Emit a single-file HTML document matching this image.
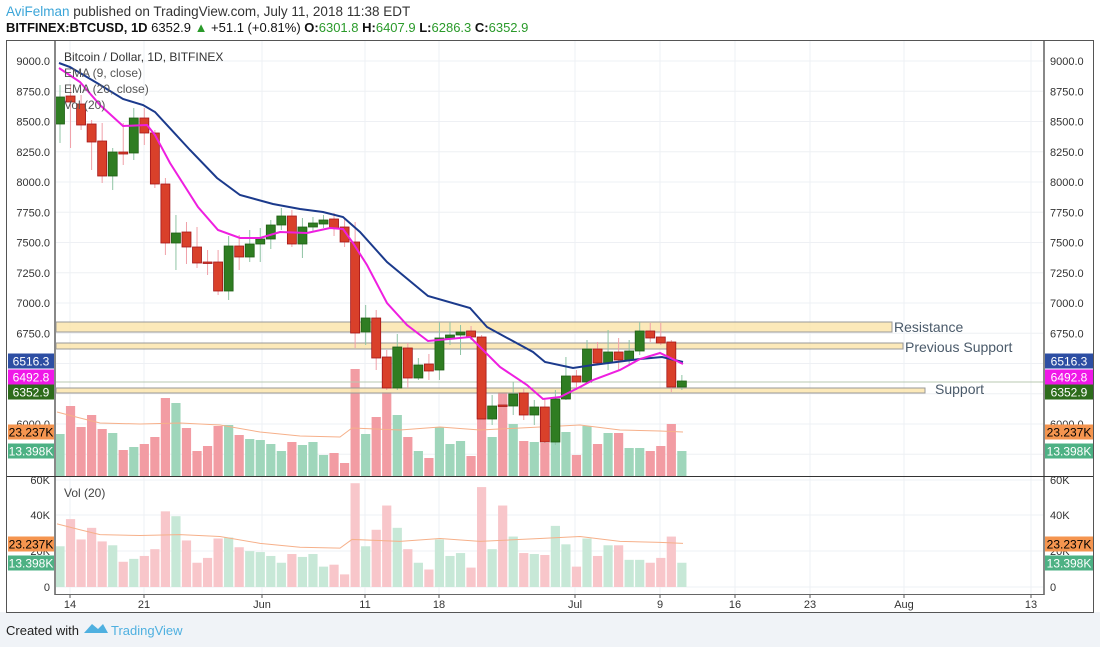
<!DOCTYPE html>
<html><head><meta charset="utf-8"><style>
body{margin:0;width:1100px;height:647px;background:#fff;overflow:hidden;font-family:"Liberation Sans",sans-serif}
#f{position:absolute;left:0;top:612px;width:1100px;height:35px;background:#f0f3f7}
</style></head><body>
<div id="f"></div>
<svg id="s" width="1100" height="647" style="position:absolute;left:0;top:0" font-family="Liberation Sans, sans-serif"></svg>
<script>
const s=document.getElementById('s');let h='';
h+='<text x="6" y="16" font-size="13.5" fill="#333"><tspan fill="#3ba5d8">AviFelman</tspan> published on TradingView.com, July 11, 2018 11:38 EDT</text>';
h+='<text x="6" y="32" font-size="13" fill="#111" font-weight="bold">BITFINEX:BTCUSD, 1D <tspan font-weight="normal">6352.9</tspan> <tspan fill="#2a9a2a">▲</tspan><tspan font-weight="normal"> +51.1 (+0.81%) </tspan>O:<tspan fill="#2a9a2a" font-weight="normal">6301.8</tspan> H:<tspan fill="#2a9a2a" font-weight="normal">6407.9</tspan> L:<tspan fill="#2a9a2a" font-weight="normal">6286.3</tspan> C:<tspan fill="#2a9a2a" font-weight="normal">6352.9</tspan></text>';
h+='<rect x="6.5" y="40.5" width="1087" height="572" fill="#fff" stroke="#555"/>';
// grid
const dates=[[70,'14'],[144,'21'],[262,'Jun'],[365,'11'],[439,'18'],[575,'Jul'],[660,'9'],[735,'16'],[810,'23'],[904,'Aug'],[1031,'13']];
dates.forEach(d=>{h+=`<line x1="${d[0]}" y1="41" x2="${d[0]}" y2="594" stroke="#eef0f4"/>`;h+=`<line x1="${d[0]}" y1="594" x2="${d[0]}" y2="598" stroke="#555"/><text x="${d[0]}" y="608" font-size="11" fill="#333" text-anchor="middle">${d[1]}</text>`});
for(let p=9000;p>=5750;p-=250){const y=61+(9000-p)*0.121;h+=`<line x1="55" y1="${y}" x2="1044" y2="${y}" stroke="#eef0f4"/>`;
 if(p>=6000){const t=p.toFixed(1);h+=`<text x="50" y="${y+4}" font-size="11" fill="#333" text-anchor="end">${t}</text><text x="1050" y="${y+4}" font-size="11" fill="#333">${t}</text>`;}}
[[480,'60K'],[515,'40K'],[551,'20K'],[587,'0']].forEach(a=>{h+=`<line x1="55" y1="${a[0]}" x2="1044" y2="${a[0]}" stroke="#eef0f4"/><text x="50" y="${a[0]+4}" font-size="11" fill="#333" text-anchor="end">${a[1]}</text><text x="1050" y="${a[0]+4}" font-size="11" fill="#333">${a[1]}</text>`});
// candles [open,close,high,low] in y px
const C=[[124,97,85,143],[96,102,85,148],[104,125,95,130],[124,142,120,170],[141,176,123,183],[176,152,148,190],[152,154,123,165],[153,118,108,160],[118,133,108,145],[133,184,130,188],[184,243,178,255],[243,233,215,270],[232,247,222,264],[247,263,227,268],[262,263,250,275],[262,291,250,295],[291,246,236,300],[246,257,235,270],[257,244,230,262],[244,239,228,262],[239,225,220,249],[225,216,208,230],[216,244,210,247],[244,227,218,258],[227,223,217,232],[224,220,215,228],[219,228,213,236],[227,242,218,247],[242,333,222,348],[332,318,305,345],[318,358,310,370],[357,388,350,390],[388,347,334,390],[348,378,343,388],[378,365,358,380],[364,371,354,380],[370,338,322,380],[338,335,322,345],[335,332,325,355],[331,337,326,340],[337,419,335,425],[419,406,395,425],[405,406,395,415],[406,394,382,415],[393,415,388,420],[415,407,400,425],[407,442,398,445],[442,399,390,445],[399,376,357,400],[376,382,370,390],[382,349,340,383],[349,363,342,365],[363,352,330,370],[352,360,338,370],[360,351,340,365],[351,331,322,355],[331,338,323,342],[337,343,323,345],[342,387,340,392],[387,381,375,390]];
const V=[434,406,427,415,429,433,450,447,444,437,398,403,428,451,446,426,425,435,439,440,444,451,442,445,442,455,453,463,369,434,417,392,415,437,451,458,427,444,441,456,373,437,392,424,441,442,443,413,432,455,426,444,433,433,448,448,451,446,424,451];
const X=i=>60+10.54*i;
// volumes
V.forEach((v,i)=>{const c=C[i],up=c[1]<c[0];const x=X(i)-4.6;const vh=476-v;
 h+=`<rect x="${x}" y="${v}" width="9.2" height="${vh}" fill="${up?'#9fd6bb':'#f29ca3'}"/>`;
 const lh=vh*0.97;h+=`<rect x="${x}" y="${587-lh}" width="9.2" height="${lh}" fill="${up?'#c7e8d7':'#f8c6ca'}"/>`;});
const vm=[[57,412],[80,418],[100,423],[140,424],[180,423],[220,425],[260,432],[300,436],[340,437],[352,428],[400,430],[440,427],[480,430],[540,427],[580,425],[620,430],[660,431],[683,432]];
h+=`<polyline fill="none" stroke="#f6b08a" stroke-width="1" points="${vm.map(p=>p[0]+','+p[1]).join(' ')}"/>`;
h+=`<polyline fill="none" stroke="#f6b08a" stroke-width="1" points="${vm.map(p=>p[0]+','+(587-(476-p[1])*0.97-1)).join(' ')}"/>`;
// zones
h+='<line x1="55" y1="382" x2="1044" y2="382" stroke="#b8c8b0"/>';
h+='<rect x="56" y="322" width="836" height="10" fill="#fbe3a8" fill-opacity="0.8" stroke="#999"/>';
h+='<rect x="56" y="343" width="847" height="6" fill="#fbe3a8" fill-opacity="0.8" stroke="#999"/>';
h+='<rect x="56" y="388" width="869" height="5" fill="#fbe3a8" fill-opacity="0.8" stroke="#999"/>';
h+='<text x="894" y="332" font-size="14" fill="#4a5a6a">Resistance</text><text x="905" y="352" font-size="14" fill="#4a5a6a">Previous Support</text><text x="935" y="394" font-size="14" fill="#4a5a6a">Support</text>';
// candles
C.forEach((c,i)=>{const x=X(i),up=c[1]<c[0];const t=Math.min(c[0],c[1]),b=Math.max(c[0],c[1]);
 h+=`<line x1="${x}" y1="${c[2]}" x2="${x}" y2="${c[3]}" stroke="${up?'#8fc4a4':'#f0a0a8'}"/>`;
 h+=`<rect x="${x-4.5}" y="${t}" width="9" height="${Math.max(b-t,1.5)}" fill="${up?'#2f7d22':'#d9402a'}" stroke="${up?'#1e5e14':'#a4161a'}" stroke-width="0.8"/>`;});
const blue=[[59,63],[70,67],[97,83],[123,99],[143,105],[155,112],[190,150],[217,178],[240,195],[273,204],[300,209],[323,212],[343,217],[360,232],[387,262],[428,296],[470,308],[487,327],[533,352],[545,362],[573,368],[593,365],[640,359],[662,357],[683,362]];
const mag=[[59,68],[80,82],[100,105],[123,126],[147,125],[155,135],[170,163],[198,207],[218,230],[240,238],[260,238],[280,232],[307,233],[330,228],[343,229],[353,243],[367,265],[387,303],[407,325],[428,341],[470,337],[483,350],[500,367],[527,385],[543,399],[560,397],[580,387],[593,380],[620,370],[640,359],[660,353],[683,364]];
h+=`<polyline fill="none" stroke="#1b3a8c" stroke-width="2" points="${blue.join(' ')}"/>`;
h+=`<polyline fill="none" stroke="#ee1fe0" stroke-width="2" points="${mag.join(' ')}"/>`;
h+='<text x="64" y="61" font-size="12" fill="#333">Bitcoin / Dollar, 1D, BITFINEX</text><text x="64" y="77" font-size="12" fill="#555">EMA (9, close)</text><text x="64" y="93" font-size="12" fill="#555">EMA (20, close)</text><text x="64" y="109" font-size="12" fill="#555">Vol (20)</text>';
h+='<text x="64" y="497" font-size="12" fill="#444">Vol (20)</text>';
// axes
h+='<line x1="55" y1="41" x2="55" y2="595" stroke="#888" stroke-width="2"/><line x1="1044" y1="41" x2="1044" y2="595" stroke="#888" stroke-width="2"/>';
h+='<line x1="7" y1="476.5" x2="1093" y2="476.5" stroke="#333"/><line x1="55" y1="594.5" x2="1044" y2="594.5" stroke="#666"/>';
// badges
const B=[[361,'#2d4ea3','6516.3','#fff'],[377,'#f018e8','6492.8','#fff'],[392,'#2d6b1b','6352.9','#fff'],[432,'#f5954f','23.237K','#000'],[451,'#4db184','13.398K','#fff'],[544,'#f5954f','23.237K','#000'],[563,'#4db184','13.398K','#fff']];
B.forEach(b=>{h+=`<rect x="8" y="${b[0]-7.5}" width="46" height="15" fill="${b[1]}"/><text x="31" y="${b[0]+4.5}" font-size="12" fill="${b[3]}" text-anchor="middle">${b[2]}</text>`;
 h+=`<rect x="1045" y="${b[0]-7.5}" width="48" height="15" fill="${b[1]}"/><text x="1069" y="${b[0]+4.5}" font-size="12" fill="${b[3]}" text-anchor="middle">${b[2]}</text>`;});
// footer
h+='<text x="6" y="635" font-size="13" fill="#222">Created with</text>';
h+='<path d="M84 633 L92 624 L98 629 L103 624 L108 633 Z" fill="#4fb0e0"/><text x="111" y="635" font-size="13" fill="#4fb0e0">TradingView</text>';
s.innerHTML=h;
</script>
</body></html>
